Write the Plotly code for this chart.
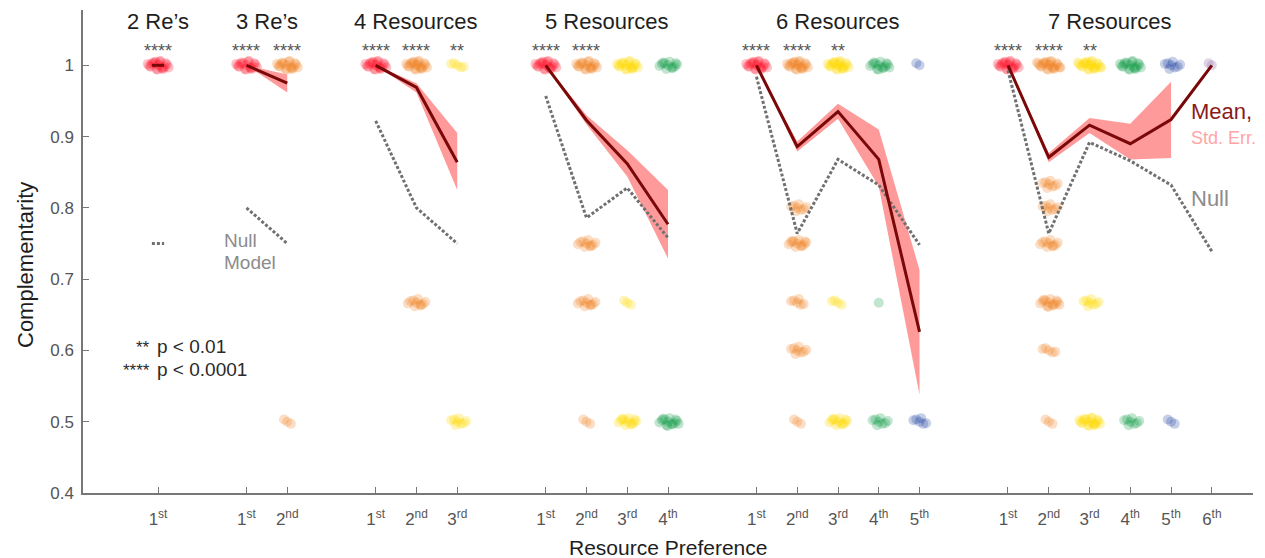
import plotly.graph_objects as go

# ---------------- data ----------------
GROUP_TITLES = ["2 Re’s", "3 Re’s", "4 Resources", "5 Resources", "6 Resources", "7 Resources"]
RANK_LABELS = ["1<sup>st</sup>", "2<sup>nd</sup>", "3<sup>rd</sup>", "4<sup>th</sup>", "5<sup>th</sup>", "6<sup>th</sup>"]

MEAN = [
    [1.0],
    [1.0, 0.975],
    [1.0, 0.969, 0.864],
    [1.0, 0.923, 0.862, 0.777],
    [1.0, 0.886, 0.935, 0.868, 0.626],
    [1.0, 0.871, 0.916, 0.890, 0.924, 1.0],
]
SE_UPPER = [
    [None],
    [1.0, 0.987],
    [1.0, 0.975, 0.905],
    [1.0, 0.930, 0.881, 0.825],
    [1.0, 0.893, 0.946, 0.910, 0.713],
    [1.0, 0.877, 0.926, 0.918, 0.977, None],
]
SE_LOWER = [
    [None],
    [1.0, 0.962],
    [1.0, 0.962, 0.825],
    [1.0, 0.917, 0.844, 0.729],
    [1.0, 0.879, 0.925, 0.830, 0.538],
    [1.0, 0.864, 0.905, 0.868, 0.870, None],
]
NULL = [
    [0.750],
    [0.800, 0.750],
    [0.922, 0.800, 0.750],
    [0.957, 0.786, 0.828, 0.758],
    [0.984, 0.764, 0.868, 0.832, 0.748],
    [0.993, 0.764, 0.892, 0.866, 0.832, 0.739],
]
STARS = [
    ["****"],
    ["****", "****"],
    ["****", "****", "**"],
    ["****", "****", "", ""],
    ["****", "****", "**", "", ""],
    ["****", "****", "**", "", "", ""],
]

# individual observations, grouped into clusters (group, rank, value, number of points)
CLUSTER_GROUP = [0,
                 1, 1, 1,
                 2, 2, 2, 2, 2,
                 3, 3, 3, 3, 3, 3, 3, 3, 3, 3,
                 4, 4, 4, 4, 4, 4, 4, 4, 4, 4, 4, 4, 4, 4, 4,
                 5, 5, 5, 5, 5, 5, 5, 5, 5, 5, 5, 5, 5, 5, 5, 5]
CLUSTER_RANK = [0,
                0, 1, 1,
                0, 1, 1, 2, 2,
                0, 1, 1, 1, 1, 2, 2, 2, 3, 3,
                0, 1, 1, 1, 1, 1, 1, 2, 2, 2, 3, 3, 3, 4, 4,
                0, 1, 1, 1, 1, 1, 1, 1, 2, 2, 2, 3, 3, 4, 4, 5]
CLUSTER_VALUE = [1.0,
                 1.0, 1.0, 0.5,
                 1.0, 1.0, 0.667, 1.0, 0.5,
                 1.0, 1.0, 0.75, 0.667, 0.5, 1.0, 0.667, 0.5, 1.0, 0.5,
                 1.0, 1.0, 0.8, 0.75, 0.667, 0.6, 0.5, 1.0, 0.667, 0.5, 1.0, 0.667, 0.5, 1.0, 0.5,
                 1.0, 1.0, 0.833, 0.8, 0.75, 0.667, 0.6, 0.5, 1.0, 0.667, 0.5, 1.0, 0.5, 1.0, 0.5, 1.0]
CLUSTER_COUNT = [20,
                 18, 18, 3,
                 20, 20, 10, 5, 8,
                 20, 18, 10, 10, 3, 18, 3, 12, 12, 14,
                 20, 20, 8, 12, 6, 8, 3, 20, 4, 12, 14, 1, 8, 2, 6,
                 20, 22, 8, 8, 10, 14, 5, 3, 22, 8, 18, 18, 8, 8, 3, 2]

RANK_COLORS = ["#ff1f35", "#f2862a", "#ffd900", "#1a9e4f", "#2e4fa8", "#8a64a8"]

# small fixed jitter pattern (visual spreading of overlapping points)
JIT_DX = [0.00, -0.08, 0.09, -0.15, 0.16, 0.04, -0.04, 0.22, -0.21, 0.11, -0.12, 0.19,
          -0.01, 0.26, -0.25, 0.06, -0.18, 0.13, -0.06, 0.02, 0.29, -0.29, 0.08, -0.10]
JIT_DY = [0.000, 0.003, -0.003, 0.002, -0.002, 0.005, -0.005, 0.001, -0.001, -0.004, 0.004, 0.003,
          -0.006, -0.003, 0.002, 0.006, -0.002, -0.005, 0.005, 0.001, -0.003, 0.004, -0.001, 0.002]

GAP = 2.17
SEG = 0.15

FONT = "Liberation Sans"
TXT = "#2a2a2a"
TICK = "#555555"

# ---------------- positions ----------------
starts = []
s = 0.0
for m in MEAN:
    starts.append(s)
    s += len(m) - 1 + GAP

def xpos(g, r):
    return starts[g] + r

fig = go.Figure()

# points
for rank in range(len(RANK_COLORS)):
    xs, ys = [], []
    for g, r, v, c in zip(CLUSTER_GROUP, CLUSTER_RANK, CLUSTER_VALUE, CLUSTER_COUNT):
        if r != rank:
            continue
        for k in range(c):
            xs.append(xpos(g, r) + JIT_DX[k % len(JIT_DX)])
            ys.append(v + JIT_DY[k % len(JIT_DY)])
    fig.add_trace(go.Scatter(x=xs, y=ys, mode="markers",
                             marker=dict(size=10, color=RANK_COLORS[rank], opacity=0.27, line=dict(width=0)),
                             hoverinfo="skip", showlegend=False))

# std err bands
for g in range(len(MEAN)):
    idx = [r for r in range(len(MEAN[g])) if SE_UPPER[g][r] is not None]
    if len(idx) < 2:
        continue
    bx = [xpos(g, r) for r in idx] + [xpos(g, r) for r in reversed(idx)]
    by = [SE_UPPER[g][r] for r in idx] + [SE_LOWER[g][r] for r in reversed(idx)]
    fig.add_trace(go.Scatter(x=bx, y=by, mode="lines", fill="toself", fillcolor="#ff9a9a",
                             line=dict(width=0), hoverinfo="skip", showlegend=False))

# null model
for g in range(len(NULL)):
    if len(NULL[g]) == 1:
        nx = [xpos(g, 0) - SEG, xpos(g, 0) + SEG]
        ny = [NULL[g][0], NULL[g][0]]
    else:
        nx = [xpos(g, r) for r in range(len(NULL[g]))]
        ny = NULL[g]
    fig.add_trace(go.Scatter(x=nx, y=ny, mode="lines",
                             line=dict(color="#707070", width=3, dash="3px,2px"),
                             hoverinfo="skip", showlegend=False))

# means
for g in range(len(MEAN)):
    if len(MEAN[g]) == 1:
        mx = [xpos(g, 0) - SEG, xpos(g, 0) + SEG]
        my = [MEAN[g][0], MEAN[g][0]]
    else:
        mx = [xpos(g, r) for r in range(len(MEAN[g]))]
        my = MEAN[g]
    fig.add_trace(go.Scatter(x=mx, y=my, mode="lines",
                             line=dict(color="#7a0808", width=3),
                             hoverinfo="skip", showlegend=False))

# ---------------- annotations ----------------
ann = []
for g in range(len(MEAN)):
    center = (xpos(g, 0) + xpos(g, len(MEAN[g]) - 1)) / 2
    ann.append(dict(x=center, y=1.062, xref="x", yref="y", text=GROUP_TITLES[g], showarrow=False,
                    font=dict(family=FONT, size=22, color="#1e1e1e"), xanchor="center", yanchor="middle"))
    for r, st in enumerate(STARS[g]):
        if st:
            ann.append(dict(x=xpos(g, r), y=1.0205, xref="x", yref="y", text=st, showarrow=False,
                            font=dict(family=FONT, size=18, color="#555555"),
                            xanchor="center", yanchor="middle"))

ann += [
    dict(x=1189, y=112, text="Mean,", font=dict(family=FONT, size=22, color="#8a1a1a")),
    dict(x=1189, y=138, text="Std. Err.", font=dict(family=FONT, size=18, color="#ffa5a5")),
    dict(x=1189, y=199, text="Null", font=dict(family=FONT, size=22, color="#8c8c8c")),
    dict(x=222, y=240, text="Null", font=dict(family=FONT, size=19, color="#8c8c8c")),
    dict(x=222, y=262, text="Model", font=dict(family=FONT, size=19, color="#8c8c8c")),
    dict(x=155, y=346, text="p < 0.01", font=dict(family=FONT, size=19, color=TXT)),
    dict(x=155, y=369, text="p < 0.0001", font=dict(family=FONT, size=19, color=TXT)),
]
# convert pixel positions of free text to paper coordinates
L, R, T, B = 83, 12, 10, 65
PW, PH = 1265 - L - R, 558 - T - B
fixed = []
for a in ann:
    if a.get("xref") == "x":
        fixed.append(a)
        continue
    px, py = a.pop("x"), a.pop("y")
    a.update(x=(px - L) / PW, y=1 - (py - T) / PH, xref="paper", yref="paper",
             xanchor="left", yanchor="middle", showarrow=False)
    fixed.append(a)
for txt, py in [("**", 347), ("****", 370)]:
    fixed.append(dict(x=(152 - L) / PW, y=1 - (py - T) / PH, xref="paper", yref="paper", text=txt,
                      showarrow=False, xanchor="right", yanchor="middle",
                      font=dict(family=FONT, size=17, color=TXT)))
fixed.append(dict(x=(25 - L) / PW, y=1 - (265 - T) / PH, xref="paper", yref="paper", text="Complementarity",
                  textangle=-90, showarrow=False, xanchor="center", yanchor="middle",
                  font=dict(family=FONT, size=22, color="#1e1e1e")))
fixed.append(dict(x=0.5, y=1 - (547 - T) / PH, xref="paper", yref="paper", text="Resource Preference",
                  showarrow=False, xanchor="center", yanchor="middle",
                  font=dict(family=FONT, size=21, color="#1e1e1e")))

tickvals, ticktext = [], []
for g in range(len(MEAN)):
    for r in range(len(MEAN[g])):
        tickvals.append(xpos(g, r))
        ticktext.append(RANK_LABELS[r])

fig.update_layout(
    width=1265, height=558,
    margin=dict(l=L, r=R, t=T, b=B),
    paper_bgcolor="white", plot_bgcolor="white",
    showlegend=False,
    annotations=fixed,
    xaxis=dict(range=[-1.84, 26.86], showgrid=False, zeroline=False, showline=True,
               linecolor="#777777", linewidth=1.5, ticks="inside", ticklen=6, tickcolor="#777777",
               tickwidth=1, tickvals=tickvals, ticktext=ticktext,
               tickfont=dict(family=FONT, size=17, color=TICK), ticklabelstandoff=10),
    yaxis=dict(range=[0.4, 1.0776], showgrid=False, zeroline=False, showline=True,
               linecolor="#777777", linewidth=1.5, ticks="inside", ticklen=6, tickcolor="#777777",
               tickwidth=1, tickvals=[0.4, 0.5, 0.6, 0.7, 0.8, 0.9, 1.0],
               ticktext=["0.4", "0.5", "0.6", "0.7", "0.8", "0.9", "1"],
               tickfont=dict(family=FONT, size=17, color=TICK), ticklabelstandoff=4),
)

fig.write_html("out.html")
